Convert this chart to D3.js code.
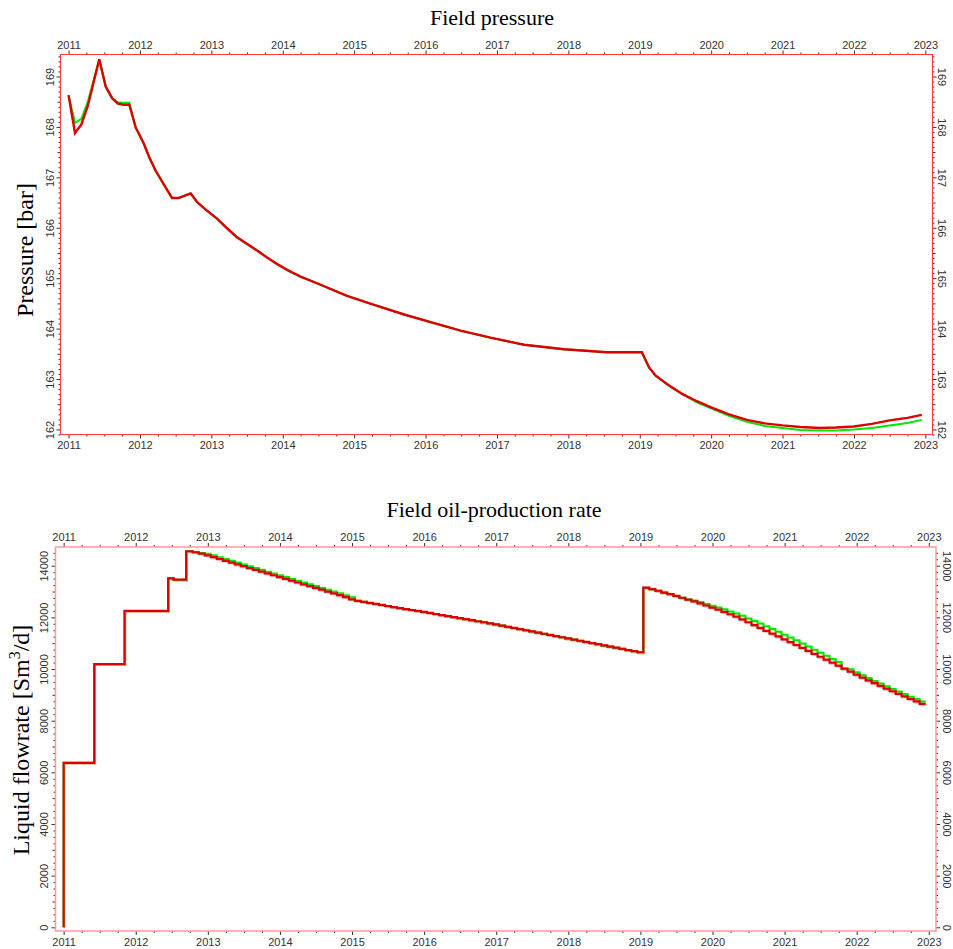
<!DOCTYPE html>
<html><head><meta charset="utf-8">
<script src="https://cdn.jsdelivr.net/npm/d3@7"></script>
<style>body{margin:0;background:#fff}svg{display:block}</style>
</head><body>
<svg id="c" width="953" height="949"></svg>
<script>
// ---------------- data ----------------
const yearTicks = [2011,2012,2013,2014,2015,2016,2017,2018,2019,2020,2021,2022,2023];
const pressureTicks = [162,163,164,165,166,167,168,169];
const rateTicks = [0,2000,4000,6000,8000,10000,12000,14000];

const pressureDates = [2011.00,2011.09,2011.18,2011.27,2011.35,2011.43,2011.52,2011.61,2011.69,2011.77,2011.85,2011.94,2012.05,2012.13,2012.22,2012.33,2012.45,2012.54,2012.71,2012.80,2012.92,2013.08,2013.22,2013.36,2013.50,2013.64,2013.78,2013.92,2014.08,2014.25,2014.53,2014.90,2015.28,2015.70,2016.07,2016.49,2016.91,2017.38,2017.94,2018.54,2019.03,2019.13,2019.22,2019.40,2019.60,2019.80,2020.00,2020.25,2020.50,2020.75,2021.00,2021.25,2021.53,2021.75,2022.00,2022.25,2022.50,2022.75,2022.95];
const pressureRed = [168.63,167.88,168.05,168.42,168.88,169.34,168.80,168.57,168.46,168.44,168.44,167.99,167.68,167.40,167.13,166.87,166.59,166.59,166.68,166.51,166.36,166.18,165.99,165.81,165.68,165.55,165.41,165.28,165.15,165.03,164.87,164.65,164.47,164.28,164.13,163.96,163.82,163.68,163.59,163.53,163.53,163.23,163.07,162.88,162.70,162.56,162.44,162.30,162.19,162.12,162.08,162.05,162.03,162.04,162.06,162.11,162.18,162.23,162.29];
const pressureGreen = [168.63,168.08,168.16,168.50,168.92,169.34,168.80,168.57,168.49,168.48,168.48,167.99,167.68,167.40,167.13,166.87,166.59,166.59,166.68,166.51,166.36,166.18,165.99,165.81,165.68,165.55,165.41,165.28,165.15,165.03,164.87,164.65,164.47,164.28,164.13,163.96,163.82,163.68,163.59,163.53,163.53,163.23,163.07,162.88,162.70,162.54,162.42,162.27,162.15,162.07,162.03,161.99,161.98,161.98,162.00,162.03,162.08,162.13,162.19];

// early (irregular) rate steps, shared by both series
const rateEarlyDates = [2011.0,2011.0,2011.425,2011.845,2012.45,2012.525,2012.70];
const rateEarlyValues = [0,6370,10190,12250,13510,13460,14560];
// monthly steps from 2012.79 on
const rateMonthlyStart = 2012.79;
const rateRed = [14520,14470,14400,14330,14260,14190,14120,14050,13980,13910,13840,13770,13700,13630,13560,13490,13420,13350,13280,13210,13140,13070,13000,12930,12860,12780,12700,
12640,12600,12560,12520,12480,12440,12400,12360,12320,12285,12250,12210,12170,12130,12090,12050,12010,11970,11930,11890,11850,11810,11770,11725,11680,11635,11590,11545,11500,11455,11410,11365,11320,11275,11230,11185,11140,11095,11050,11005,10960,10915,10870,10825,10780,10735,10690,10650,
13150,13090,13030,12960,12900,12830,12760,12690,12620,12540,12460,12380,12300,12210,12120,12030,11920,11810,11700,11590,11480,11370,11260,11150,11040,10930,10820,10705,10590,10475,10360,10245,10130,10015,9900,9785,9670,9560,9450,9345,9240,9140,9040,8940,8840,8745,8650];
const rateGreen = [14520,14490,14460,14400,14330,14260,14190,14120,14050,13980,13910,13840,13770,13700,13630,13560,13490,13420,13350,13280,13210,13140,13070,13000,12930,12860,12780,
12640,12600,12560,12520,12480,12440,12400,12360,12320,12285,12250,12210,12170,12130,12090,12050,12010,11970,11930,11890,11850,11810,11770,11725,11680,11635,11590,11545,11500,11455,11410,11365,11320,11275,11230,11185,11140,11095,11050,11005,10960,10915,10870,10825,10780,10735,10690,10650,
13150,13090,13030,12960,12900,12830,12760,12690,12650,12590,12520,12450,12380,12310,12230,12150,12060,11960,11860,11760,11660,11550,11440,11330,11220,11110,10990,10870,10750,10630,10510,10390,10270,10015,9990,9875,9760,9650,9540,9435,9330,9230,9130,9030,8930,8835,8740];

// ---------------- drawing ----------------
const svg = d3.select("#c");
const FONT = "'Liberation Sans', Arial, sans-serif";
const SERIF = "'Liberation Serif', 'Times New Roman', serif";

function rateSeries(monthly) {
  const pts = rateEarlyDates.map((d,i)=>[d, rateEarlyValues[i]]);
  monthly.forEach((v,k)=>pts.push([rateMonthlyStart + k/12, v]));
  pts.push([rateMonthlyStart + monthly.length/12, monthly[monthly.length-1]]);
  return pts;
}

function panel(cfg) {
  const x = d3.scaleLinear().domain([2010.887, 2023.1]).range([cfg.left, cfg.right]);
  const y = d3.scaleLinear().domain(cfg.yDomain).range([cfg.bottom, cfg.top]);
  const g = svg.append("g");
  const quarterTicks = d3.range(2010.75, 2023.1, 0.25).filter(v => x(v) >= cfg.left - 0.1 && x(v) <= cfg.right + 0.1 && Math.abs(v - Math.round(v)) > 1e-6);
  const yMinor = d3.range(Math.ceil(cfg.yDomain[0]/cfg.minorStep)*cfg.minorStep, cfg.yDomain[1], cfg.minorStep)
      .filter(v => { const r = v / cfg.majorStep; return Math.abs(r - Math.round(r)) > 1e-6; });
  const isMid = v => { const r = v / cfg.midStep; return Math.abs(r - Math.round(r)) < 1e-6; };

  function styleAxis(sel) {
    sel.select(".domain").remove();
    sel.selectAll("line").attr("stroke", "#333").attr("stroke-width", 1);
    sel.selectAll("text").attr("fill", "#333").style("font-family", FONT).style("font-size", "11px");
  }
  // x axes
  g.append("g").attr("transform", `translate(0,${cfg.top})`)
    .call(d3.axisTop(x).tickValues(yearTicks).tickFormat(d3.format("d")).tickSize(4).tickPadding(2)).call(styleAxis);
  g.append("g").attr("transform", `translate(0,${cfg.top})`)
    .call(d3.axisTop(x).tickValues(quarterTicks).tickFormat("").tickSize(2)).call(styleAxis);
  g.append("g").attr("transform", `translate(0,${cfg.bottom})`)
    .call(d3.axisBottom(x).tickValues(yearTicks).tickFormat(d3.format("d")).tickSize(4).tickPadding(3)).call(styleAxis);
  g.append("g").attr("transform", `translate(0,${cfg.bottom})`)
    .call(d3.axisBottom(x).tickValues(quarterTicks).tickFormat("").tickSize(2)).call(styleAxis);
  // y axes
  const yl = g.append("g").attr("transform", `translate(${cfg.left},0)`)
    .call(d3.axisLeft(y).tickValues(cfg.yTicks).tickFormat(d3.format("d")).tickSize(4)).call(styleAxis);
  yl.selectAll("text").attr("transform", "rotate(-90)").attr("x", 0).attr("y", -cfg.leftLabelOff).attr("dy", 0).attr("text-anchor", "middle");
  const yr = g.append("g").attr("transform", `translate(${cfg.right},0)`)
    .call(d3.axisRight(y).tickValues(cfg.yTicks).tickFormat(d3.format("d")).tickSize(4)).call(styleAxis);
  yr.selectAll("text").attr("transform", "rotate(90)").attr("x", 0).attr("y", -cfg.rightLabelOff).attr("dy", 0).attr("text-anchor", "middle");
  g.append("g").attr("transform", `translate(${cfg.left},0)`)
    .call(d3.axisLeft(y).tickValues(yMinor).tickFormat("").tickSize(2)).call(styleAxis)
    .selectAll(".tick line").attr("x2", d => isMid(d) ? -3 : -2);
  g.append("g").attr("transform", `translate(${cfg.right},0)`)
    .call(d3.axisRight(y).tickValues(yMinor).tickFormat("").tickSize(2)).call(styleAxis)
    .selectAll(".tick line").attr("x2", d => isMid(d) ? 3 : 2);

  // lines
  const line = d3.line().x(d => x(d[0])).y(d => y(d[1])).curve(cfg.curve);
  cfg.series.forEach(s => {
    if (s.halo) g.append("path").datum(s.data).attr("d", line).attr("fill", "none")
      .attr("stroke", s.halo).attr("stroke-width", 2).attr("transform", "translate(0.8,1)");
  });
  cfg.series.forEach(s => {
    g.append("path").datum(s.data).attr("d", line).attr("fill", "none")
      .attr("stroke", s.color).attr("stroke-width", s.width).attr("stroke-linejoin", "miter");
  });

  // frame
  g.append("rect").attr("x", cfg.left).attr("y", cfg.top)
    .attr("width", cfg.right - cfg.left).attr("height", cfg.bottom - cfg.top)
    .attr("fill", "none").attr("stroke", cfg.frame).attr("stroke-width", cfg.frameWidth);

  // titles
  svg.append("text").attr("x", cfg.titleX).attr("y", cfg.titleY).attr("text-anchor", "middle")
    .style("font-family", SERIF).style("font-size", "22px").attr("fill", "#000").text(cfg.title);
  const yt = svg.append("text").attr("transform", `translate(${cfg.ytX},${cfg.ytY}) rotate(-90)`)
    .attr("text-anchor", "middle").style("font-family", SERIF).style("font-size", "24px").attr("fill", "#000");
  cfg.ytitle(yt);
}

panel({
  left: 60.5, right: 932.5, top: 54.5, bottom: 434.5,
  yDomain: [161.9, 169.436], yTicks: pressureTicks, majorStep: 1, minorStep: 0.1, midStep: 0.5,
  leftLabelOff: 7, rightLabelOff: 5.5,
  curve: d3.curveLinear,
  series: [
    {data: pressureDates.map((d,i)=>[d, pressureGreen[i]]), color: "#00e600", width: 2},
    {data: pressureDates.map((d,i)=>[d, pressureRed[i]]), color: "#dd0000", width: 2.4}
  ],
  frame: "#ff3b3b", frameWidth: 1,
  title: "Field pressure", titleX: 492, titleY: 25,
  ytX: 33, ytY: 250, ytitle: t => t.text("Pressure [bar]")
});

panel({
  left: 55.5, right: 936, top: 547, bottom: 931,
  yDomain: [-143, 14724], yTicks: rateTicks, majorStep: 2000, minorStep: 250, midStep: 1000,
  leftLabelOff: 8, rightLabelOff: 6.7,
  curve: d3.curveStepAfter,
  series: [
    {data: rateSeries(rateGreen), color: "#00e600", width: 2, halo: "rgba(140,255,140,0.6)"},
    {data: rateSeries(rateRed), color: "#dd0000", width: 2.2, halo: "rgba(245,150,150,0.7)"}
  ],
  frame: "#ff9a9a", frameWidth: 1.5,
  title: "Field oil-production rate", titleX: 494, titleY: 517,
  ytX: 29, ytY: 740, ytitle: t => { t.append("tspan").text("Liquid flowrate [Sm");
    t.append("tspan").attr("dy", -9).style("font-size", "16px").text("3");
    t.append("tspan").attr("dy", 9).text("/d]"); }
});
</script>
</body></html>
